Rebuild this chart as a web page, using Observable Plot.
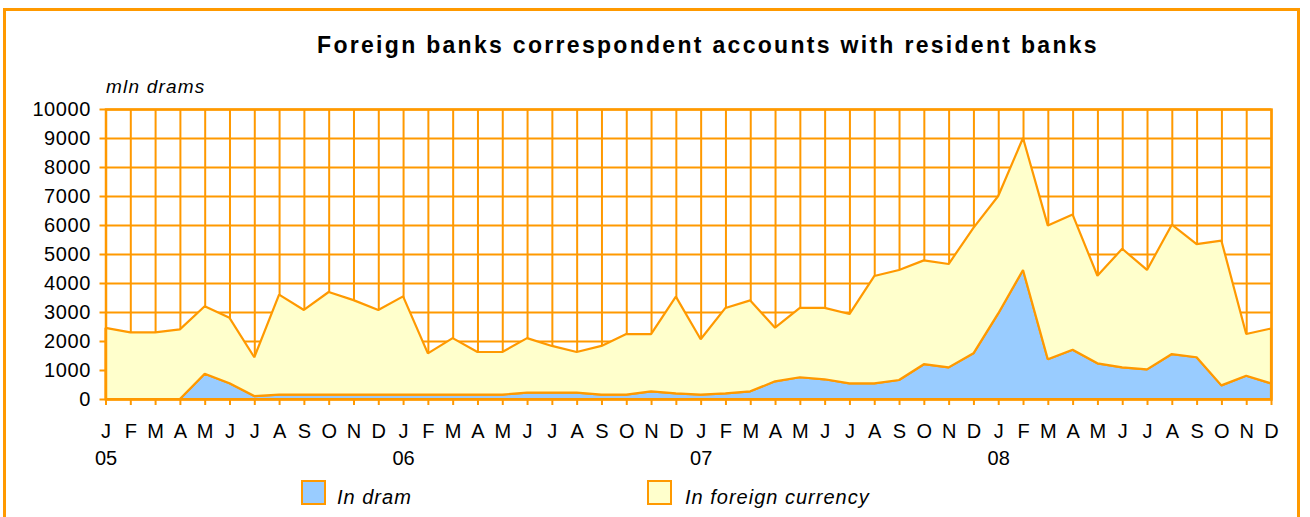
<!DOCTYPE html>
<html>
<head>
<meta charset="utf-8">
<script src="https://cdn.jsdelivr.net/npm/d3@7"></script>
<script src="https://cdn.jsdelivr.net/npm/@observablehq/plot@0.6"></script>
<style>
  html, body { margin: 0; padding: 0; background: #fff; }
  #wrap { position: relative; width: 1310px; height: 517px; overflow: hidden; font-family: "Liberation Sans", Arial, sans-serif; }
  #border { position: absolute; left: 3px; top: 8px; width: 1291px; height: 530px; border: 3px solid #FF9900; box-sizing: content-box; }
  #chart { position: absolute; left: 0; top: 0; }
  #title { position: absolute; left: 0; width: 1416px; top: 32px; text-align: center; font-weight: bold; font-size: 23px; line-height: 1.15; letter-spacing: 2.3px; color: #000; white-space: nowrap; }
  #ylabel { position: absolute; left: 106px; top: 76px; font-style: italic; font-size: 19px; line-height: 1.15; letter-spacing: 1.2px; color: #000; }
  .sw { position: absolute; top: 480px; width: 21px; height: 21px; border: 2px solid #FF9900; }
  .lt { position: absolute; top: 486px; font-style: italic; font-size: 20px; line-height: 1.15; letter-spacing: 1px; color: #000; white-space: nowrap; }
  #chart svg g[aria-label="y-axis tick label"] text { letter-spacing: 0.6px; }
</style>
</head>
<body>
<div id="wrap">
  <div id="border"></div>
  <div id="chart"></div>
  <div id="title">Foreign banks correspondent accounts with resident banks</div>
  <div id="ylabel">mln drams</div>
  <div class="sw" style="left:301px;background:#99CCFF"></div>
  <div class="lt" style="left:337px">In dram</div>
  <div class="sw" style="left:647px;background:#FFFFCC"></div>
  <div class="lt" style="left:685px">In foreign currency</div>
</div>
<script>
const monthLetters = ["J","F","M","A","M","J","J","A","S","O","N","D"];
const years = ["05","06","07","08"];
const seriesNames = ["In dram", "In foreign currency"];
const yTicks = [0,1000,2000,3000,4000,5000,6000,7000,8000,9000,10000];

// mln drams, Jan 2005 .. Dec 2008
const inDram = [
  0, 0, 0, 0, 870, 540, 100, 150, 150, 150, 150, 150,
  150, 150, 150, 150, 150, 220, 220, 220, 150, 150, 260, 195,
  150, 195, 265, 610, 750, 680, 540, 540, 655, 1200, 1090, 1575,
  2950, 4450, 1370, 1700, 1230, 1090, 1020, 1550, 1440, 470, 800, 540
];
const inForeign = [
  2450, 2300, 2300, 2400, 2330, 2260, 1340, 3450, 2920, 3540, 3260, 2920,
  3390, 1425, 1950, 1470, 1470, 1880, 1610, 1400, 1680, 2090, 1980, 3335,
  1910, 2945, 3135, 1850, 2390, 2460, 2390, 3700, 3795, 3580, 3565, 4325,
  4050, 4550, 4610, 4660, 3020, 4090, 3430, 4460, 3900, 4990, 1440, 1890
];

const orange = "#FF9900";
const idx = d3.range(inDram.length);
const rows = [
  ...inDram.map((v, i) => ({i, series: seriesNames[0], value: v})),
  ...inForeign.map((v, i) => ({i, series: seriesNames[1], value: v}))
];

const chart = Plot.plot({
  width: 1310,
  height: 517,
  marginTop: 109,
  marginBottom: 118,
  marginLeft: 105.5,
  marginRight: 39,
  style: {fontFamily: "'Liberation Sans', Arial, sans-serif", fontSize: "20px", background: "transparent", overflow: "visible"},
  x: {domain: [0, idx.length - 1]},
  y: {domain: [0, 10000]},
  color: {domain: seriesNames, range: ["#99CCFF", "#FFFFCC"]},
  marks: [
    Plot.gridX({ticks: idx, stroke: orange, strokeOpacity: 1, strokeWidth: 2}),
    Plot.gridY({ticks: yTicks, stroke: orange, strokeOpacity: 1, strokeWidth: 2}),
    Plot.areaY(rows, Plot.stackY({x: "i", y: "value", fill: "series", order: seriesNames, stroke: orange, strokeWidth: 2.2, strokeLinejoin: "miter"})),
    Plot.frame({stroke: orange, strokeWidth: 2.5}),
    Plot.axisY({ticks: yTicks, tickSize: 6, tickPadding: 9, tickFormat: d3.format("d"), stroke: orange, strokeWidth: 2, color: "#000", fontSize: 20, label: null}),
    Plot.axisX({ticks: idx, tickSize: 6, tickPadding: 18, tickFormat: i => monthLetters[i % 12], stroke: orange, strokeWidth: 2, color: "#000", fontSize: 20, label: null}),
    Plot.text(years, {x: (d, k) => k * 12, text: d => d, frameAnchor: "bottom", lineAnchor: "top", dy: 51, fontSize: 20, fill: "#000"})
  ]
});
document.getElementById("chart").appendChild(chart);
</script>
</body>
</html>
